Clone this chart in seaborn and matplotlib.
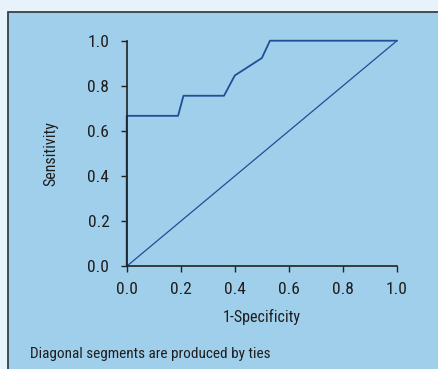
import matplotlib.pyplot as plt
import matplotlib.patches as mpatches
import seaborn as sns
import pandas as pd

# ROC curve points
fpr = [0.0, 0.0, 0.19, 0.21, 0.36, 0.40, 0.50, 0.53, 1.0]
tpr = [0.0, 0.667, 0.667, 0.756, 0.756, 0.846, 0.923, 1.0, 1.0]
ref_x = [0.0, 1.0]
ref_y = [0.0, 1.0]
ticks = [0.0, 0.2, 0.4, 0.6, 0.8, 1.0]
tick_labels = ["0.0", "0.2", "0.4", "0.6", "0.8", "1.0"]

sns.set_theme(style="ticks")
plt.rcParams['font.family'] = ['Roboto Condensed', 'Liberation Sans Narrow',
                               'Roboto', 'DejaVu Sans']

BG_OUT = "#e8f2fa"
BG_IN = "#a0cfec"
LINE = "#1f4f96"
INK = "#222222"

fig = plt.figure(figsize=(4.38, 3.69), dpi=100, facecolor=BG_OUT)

# framed panel behind everything
frame = mpatches.Rectangle((7.5 / 438, -0.05), 1.2, (369 - 11.5) / 369 + 0.05,
                           transform=fig.transFigure, facecolor=BG_IN,
                           edgecolor="#3a3f45", linewidth=1.3, zorder=-10)
fig.patches.append(frame)

ax = fig.add_axes([126.7 / 438, (369 - 266.3) / 369, 270.3 / 438, 225.6 / 369])
ax.set_zorder(5)
ax.patch.set_visible(False)

df_roc = pd.DataFrame({"fpr": fpr, "tpr": tpr})
df_ref = pd.DataFrame({"x": ref_x, "y": ref_y})
sns.lineplot(data=df_roc, x="fpr", y="tpr", sort=False, estimator=None,
             color=LINE, linewidth=1.3, ax=ax, clip_on=False)
sns.lineplot(data=df_ref, x="x", y="y", sort=False, estimator=None,
             color=LINE, linewidth=0.9, ax=ax, clip_on=False)

ax.set_xlim(0, 1)
ax.set_ylim(0, 1)
ax.set_xticks(ticks)
ax.set_xticklabels(tick_labels)
ax.set_yticks(ticks)
ax.set_yticklabels(tick_labels)
for s in ["top", "right"]:
    ax.spines[s].set_visible(False)
for s in ["left", "bottom"]:
    ax.spines[s].set_color(INK)
    ax.spines[s].set_linewidth(1.2)
ax.tick_params(axis="both", colors=INK, labelcolor="#1e1e1e", length=4.5,
               width=1.0, labelsize=12.5)
ax.tick_params(axis="x", pad=6.5)
ax.tick_params(axis="y", pad=8)
ax.set_xlabel("1-Specificity", fontsize=11.5, color="#1e1e1e", labelpad=9)
ax.set_ylabel("Sensitivity", fontsize=11.5, color="#1e1e1e", labelpad=21)

fig.text(30.5 / 438, 1 - 354 / 369, "Diagonal segments are produced by ties",
         fontsize=11, color="#1e1e1e", ha="left", va="center")

fig.savefig("out.png", dpi=100, facecolor=BG_OUT)
